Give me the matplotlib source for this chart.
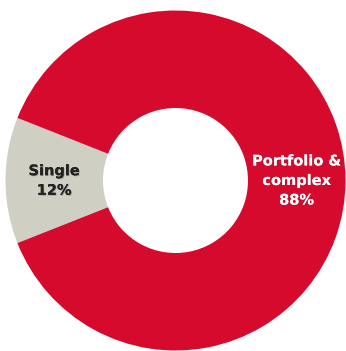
import matplotlib
matplotlib.use("Agg")
import matplotlib.pyplot as plt
import matplotlib.patheffects as pe

categories = ["Single", "Portfolio &\ncomplex"]
values = [12, 88]
colors = ["#D0CFC4", "#D50A2D"]
text_colors = ["#222222", "#FFFFFF"]

W, H = 346, 351
fig = plt.figure(figsize=(W / 100, H / 100), dpi=100)
ax = fig.add_axes([0, 0, 1, 1])

R = 170
hole = 72.5
cx, cy = 175.5, H - 180.5
start = 180 - values[0] / sum(values) * 360 / 2

labels = [f"{c}\n{v}%" for c, v in zip(categories, values)]
wedges, texts = ax.pie(values, colors=colors, labels=labels, startangle=start,
                       counterclock=True, radius=R, center=(cx, cy),
                       labeldistance=(R + hole) / 2 / R,
                       wedgeprops=dict(width=R - hole, linewidth=0),
                       frame=True)
ax.set_xlim(0, W)
ax.set_ylim(0, H)
ax.set_aspect("equal")
ax.axis("off")
for t, tc in zip(texts, text_colors):
    t.set_ha("center")
    t.set_va("center")
    t.set_color(tc)
    t.set_fontsize(10.5)
    t.set_fontweight("bold")
    t.set_fontfamily("DejaVu Sans")
    t.set_linespacing(1.38)
    t.set_path_effects([pe.withSimplePatchShadow(offset=(0.6, -0.6), alpha=0.25), pe.Normal()])

fig.savefig("out.png", dpi=100)
